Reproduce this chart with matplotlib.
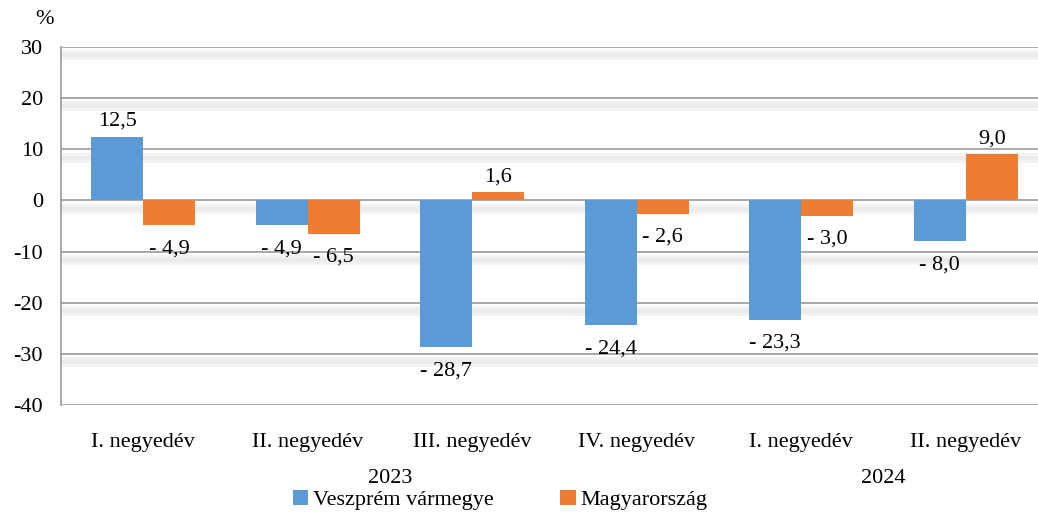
import matplotlib.pyplot as plt
import matplotlib.patheffects as pe
import numpy as np

# ---- data ----
categories = ["I. negyedév", "II. negyedév", "III. negyedév", "IV. negyedév",
              "I. negyedév", "II. negyedév"]
years = ["2023", "2024"]
veszprem = [12.5, -4.9, -28.7, -24.4, -23.3, -8.0]
magyar = [-4.9, -6.5, 1.6, -2.6, -3.0, 9.0]
series_names = ["Veszprém vármegye", "Magyarország"]

BLUE = "#5B9BD5"
ORANGE = "#ED7D31"
FS = 16

plt.rcParams["font.family"] = ["Liberation Serif", "DejaVu Serif"]

fig = plt.figure(figsize=(10.38, 5.13), dpi=100)
W, H = 1038, 513
# plot area in pixels: left 61, right 1048 (runs off the picture), top 47, bottom 405
ax = fig.add_axes([61 / W, 1 - 405 / H, (1048 - 61) / W, (405 - 47) / H])

x = np.arange(len(categories))
bw = 0.316
ax.bar(x - bw / 2, veszprem, bw, color=BLUE, label=series_names[0], zorder=3)
ax.bar(x + bw / 2, magyar, bw, color=ORANGE, label=series_names[1], zorder=3)


def fmt(v):
    s = f"{abs(v):.1f}".replace(".", ",")
    return "- " + s if v < 0 else s


# adatfeliratok
for xs, vals in ((x - bw / 2, veszprem), (x + bw / 2, magyar)):
    for xi, v in zip(xs, vals):
        if v >= 0:
            ax.annotate(fmt(v), (xi, v), xytext=(0, 4), textcoords="offset points",
                        ha="center", va="bottom", fontsize=FS, zorder=4)
        else:
            ax.annotate(fmt(v), (xi, v), xytext=(0, -10), textcoords="offset points",
                        ha="center", va="top", fontsize=FS, zorder=4)

ax.set_ylim(-40, 30)
ax.set_xlim(-0.5, len(categories) - 0.5)
ax.set_yticks(range(-40, 31, 10))
ax.set_yticklabels([str(t) for t in range(-40, 31, 10)], fontsize=FS)

# rácsvonalak halvány árnyékkal
for t in range(-40, 31, 10):
    ax.axhline(t, color="#9a9a9a", linewidth=1.2, zorder=1,
               path_effects=[pe.SimpleLineShadow(offset=(0, -6), shadow_color="#f2f2f2",
                                                 alpha=1, linewidth=7),
                             pe.SimpleLineShadow(offset=(0, -6), shadow_color="#ebebeb",
                                                 alpha=1, linewidth=3),
                             pe.Normal()])

ax.set_xticks(x)
ax.set_xticklabels(categories, fontsize=FS)
ax.tick_params(axis="both", length=0)
ax.tick_params(axis="x", pad=20)
ax.tick_params(axis="y", pad=13)

for s in ("top", "right", "bottom"):
    ax.spines[s].set_visible(False)
ax.spines["left"].set_color("#9a9a9a")
ax.spines["left"].set_linewidth(1.2)

# évszámok
for xc, yr in (((x[0] + x[3]) / 2, years[0]), ((x[4] + x[5]) / 2, years[1])):
    ax.annotate(yr, (xc, 0), xycoords=("data", "axes fraction"), xytext=(0, -53),
                textcoords="offset points", ha="center", va="center", fontsize=FS)

fig.text(45 / W, 1 - 20 / H, "%", ha="center", va="center", fontsize=FS)

fig.legend(loc="center", bbox_to_anchor=(500 / W, 1 - 500 / H), ncol=2,
           frameon=False, fontsize=FS, handlelength=0.7, handleheight=0.7,
           handletextpad=0.2, columnspacing=3.0, borderaxespad=0)

fig.savefig("out.png", dpi=100)
